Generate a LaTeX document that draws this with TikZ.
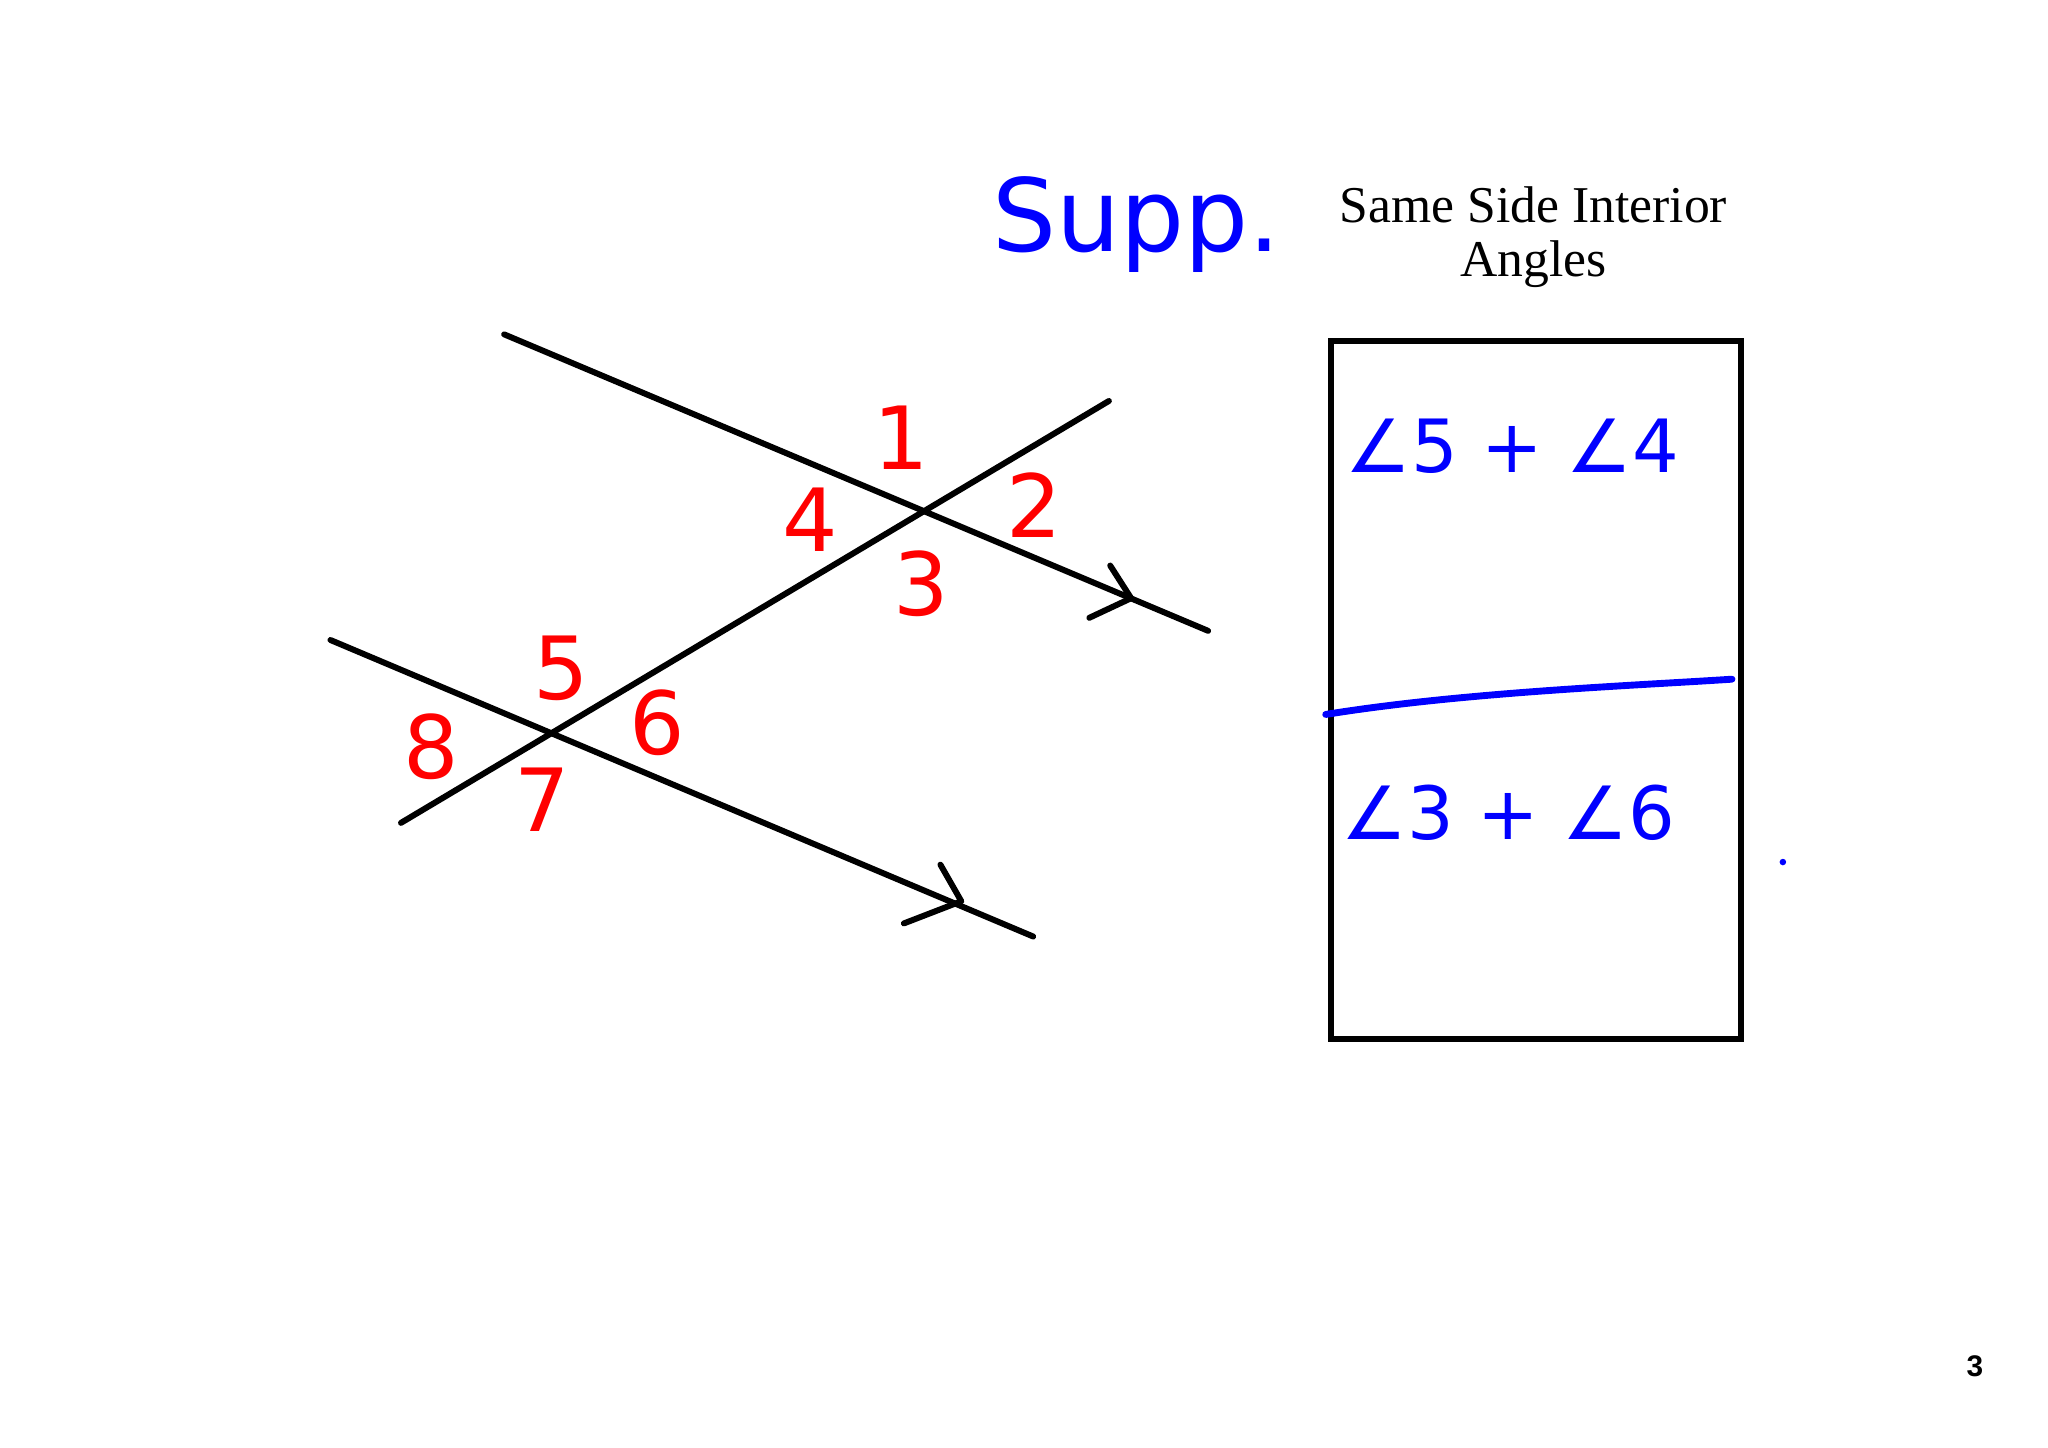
\documentclass[tikz,border=0pt]{standalone}
\usepackage{fontspec}
\usetikzlibrary{calc}
\setmainfont{Liberation Serif}
\newfontfamily\hand{DejaVu Sans}
\newfontfamily\pg{Liberation Sans}
\begin{document}
\begin{tikzpicture}[x=0.02cm,y=-0.02cm,
  blk/.style={line width=2.6pt,line cap=round},
  red/.style={text=red,font=\hand\fontsize{38}{38}\selectfont},
  blu/.style={text=blue,font=\hand\fontsize{32}{32}\selectfont},
  ttl/.style={font=\fontsize{22.5}{22.5}\selectfont,inner sep=0pt}]
\useasboundingbox (0,0) rectangle (1568,1108);
\fill[white] (0,0) rectangle (1568,1108);
\coordinate (a1) at (386,256); \coordinate (a2) at (925,483);
\coordinate (b1) at (253,490); \coordinate (b2) at (791,717);
\coordinate (t1) at (307,630); \coordinate (t2) at (849,307);
\draw[blk] (a1) -- (a2);
\draw[blk] (b1) -- (b2);
\draw[blk] (t1) -- (t2);
\coordinate (c1) at (866,458); \coordinate (c2) at (736,690);
\draw[blk,line join=round] ($(c1)+(-16,-25)$) -- (c1) -- ($(c1)+(-32,15)$);
\draw[blk,line join=round] ($(c2)+(-16,-28)$) -- (c2) -- ($(c2)+(-44,17)$);
\node[red] (n1) at (690,335) {1};
\node[red] (n2) at (792,387) {2};
\node[red] (n4) at (620,398) {4};
\node[red] (n3) at (705,447) {3};
\node[red] (n5) at (430,512) {5};
\node[red] (n6) at (503,553) {6};
\node[red] (n8) at (330,572) {8};
\node[red] (n7) at (415,612) {7};
\node[text=blue,font=\hand\fontsize{44}{44}\selectfont] (supp) at (870,172) {Supp.};
\node[ttl] (title1) at (1174,157) {Same Side Interior};
\node[ttl] (title2) at (1174,202) {Angles};
\node[draw,line width=2.6pt,minimum width=314*0.02cm,minimum height=534*0.02cm,anchor=north west,inner sep=0] (box) at (1017,259) {};
\draw[blue,line width=3pt,line cap=round] (1015,547) .. controls (1120,530) and (1250,525) .. (1326,520);
\node[blu] (e1) at (1158,342) {∠5 + ∠4};
\node[blu] (e2) at (1155,622) {∠3 + ∠6};
\fill[blue] (1365,660) circle (2.5);
\node[font=\pg\bfseries\fontsize{13}{13}\selectfont] (pn) at (1512,1046) {3};
\end{tikzpicture}
\end{document}
